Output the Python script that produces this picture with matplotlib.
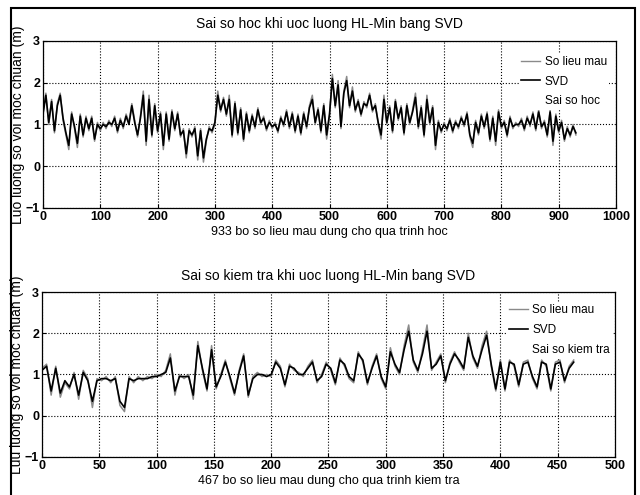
import numpy as np
import matplotlib
matplotlib.use('Agg')
import matplotlib.pyplot as plt
from matplotlib.lines import Line2D
from matplotlib.patches import Rectangle

# tap hoc: 933 mau, doc moi 5 buoc
hoc_step = 5
hoc_mau = [
    1.3, 1.75, 1.0, 1.6, 0.8, 1.5, 1.75, 1.1, 0.75, 0.4,
    1.3, 0.9, 0.45, 1.25, 0.7, 1.2, 0.85, 1.2, 0.6, 1.05,
    0.85, 1.05, 0.9, 1.1, 0.95, 1.2, 0.8, 1.15, 0.9, 1.25,
    1.05, 1.5, 1.1, 0.7, 1.2, 1.8, 0.5, 1.7, 0.7, 1.5,
    0.8, 1.3, 0.4, 1.3, 0.6, 1.35, 0.85, 1.3, 0.7, 0.9,
    0.2, 0.9, 0.7, 0.95, 0.15, 0.9, 0.1, 0.6, 0.95, 0.8,
    1.0, 1.8, 1.3, 1.65, 1.2, 1.7, 0.7, 1.55, 0.75, 1.4,
    0.6, 1.3, 0.8, 1.25, 0.9, 1.4, 1.0, 1.2, 0.85, 1.1,
    0.9, 1.05, 0.8, 1.2, 0.95, 1.35, 0.9, 1.3, 0.8, 1.25,
    0.75, 1.3, 0.9, 1.45, 1.7, 1.0, 1.4, 0.8, 1.5, 0.65,
    1.2, 2.2, 1.4, 2.05, 0.9, 1.8, 2.15, 1.4, 1.9, 1.3,
    1.6, 1.2, 1.55, 1.4, 1.75, 1.3, 1.5, 1.0, 0.65, 1.7,
    1.0, 1.45, 0.8, 1.6, 1.1, 1.45, 0.75, 1.5, 1.0, 1.35,
    1.75, 0.9, 1.45, 0.7, 1.7, 1.0, 1.45, 0.4, 1.1, 0.8,
    1.05, 0.85, 1.15, 0.8, 1.1, 0.9, 1.2, 0.95, 1.3, 0.7,
    0.45, 1.1, 0.75, 1.25, 0.9, 1.3, 0.6, 1.2, 0.5, 1.35,
    0.9, 1.1, 0.7, 1.2, 0.9, 1.05, 0.95, 1.15, 0.85, 1.2,
    0.95, 1.3, 0.85, 1.35, 0.9, 1.1, 0.7, 1.35, 0.5, 1.25,
    0.8, 1.1, 0.6, 0.95, 0.7, 1.0, 0.75,
]
hoc_svd = [
    1.25, 1.7, 1.05, 1.55, 0.85, 1.45, 1.7, 1.15, 0.8, 0.5,
    1.25, 0.95, 0.55, 1.2, 0.75, 1.15, 0.9, 1.15, 0.65, 1.0,
    0.9, 1.0, 0.95, 1.05, 1.0, 1.15, 0.85, 1.1, 0.95, 1.2,
    1.0, 1.45, 1.05, 0.75, 1.15, 1.7, 0.6, 1.6, 0.75, 1.45,
    0.85, 1.25, 0.5, 1.25, 0.65, 1.3, 0.9, 1.25, 0.75, 0.85,
    0.3, 0.85, 0.75, 0.9, 0.25, 0.85, 0.2, 0.65, 0.9, 0.85,
    1.05, 1.7, 1.35, 1.6, 1.25, 1.6, 0.75, 1.5, 0.8, 1.35,
    0.65, 1.25, 0.85, 1.2, 0.95, 1.35, 1.05, 1.15, 0.9, 1.05,
    0.95, 1.0, 0.85, 1.15, 1.0, 1.3, 0.95, 1.25, 0.85, 1.2,
    0.8, 1.25, 0.95, 1.4, 1.6, 1.05, 1.35, 0.85, 1.45, 0.75,
    1.25, 2.1, 1.45, 1.95, 0.95, 1.75, 2.05, 1.45, 1.8, 1.35,
    1.55, 1.25, 1.5, 1.45, 1.7, 1.35, 1.45, 1.05, 0.75, 1.6,
    1.05, 1.4, 0.85, 1.55, 1.15, 1.4, 0.8, 1.45, 1.05, 1.3,
    1.65, 0.95, 1.4, 0.75, 1.6, 1.05, 1.4, 0.5, 1.05, 0.85,
    1.0, 0.9, 1.1, 0.85, 1.05, 0.95, 1.15, 1.0, 1.25, 0.75,
    0.55, 1.05, 0.8, 1.2, 0.95, 1.25, 0.65, 1.15, 0.6, 1.3,
    0.95, 1.05, 0.75, 1.15, 0.95, 1.0, 1.0, 1.1, 0.9, 1.15,
    1.0, 1.25, 0.9, 1.3, 0.95, 1.05, 0.75, 1.3, 0.6, 1.2,
    0.85, 1.05, 0.65, 0.9, 0.75, 0.95, 0.8,
]

# tap kiem tra: 467 mau, doc moi 4 buoc
kt_step = 4
kt_mau = [
    1.15, 1.25, 0.5, 1.2, 0.45, 0.8, 0.65, 1.05, 0.4, 1.1,
    0.9, 0.2, 0.9, 0.85, 0.95, 0.8, 0.95, 0.25, 0.1, 0.95,
    0.8, 0.95, 0.85, 0.95, 0.9, 1.0, 0.95, 1.1, 1.5, 0.5,
    1.0, 0.9, 1.0, 0.4, 1.8, 1.1, 0.6, 1.7, 0.65, 1.0,
    1.35, 0.9, 0.5, 1.1, 1.5, 0.45, 0.95, 1.05, 0.95, 1.0,
    0.95, 1.35, 1.2, 0.7, 1.25, 1.1, 1.05, 0.95, 1.2, 1.35,
    0.8, 1.0, 1.3, 1.1, 0.75, 1.4, 1.2, 0.9, 0.8, 1.55,
    1.3, 0.75, 1.2, 1.5, 0.9, 0.65, 1.65, 1.2, 1.0, 1.7,
    2.2, 1.3, 1.05, 1.6, 2.2, 1.1, 1.3, 1.5, 0.8, 1.3,
    1.55, 1.3, 1.1, 2.0, 1.4, 1.15, 1.7, 2.05, 1.2, 0.6,
    1.35, 0.6, 1.35, 1.2, 0.7, 1.3, 1.35, 0.9, 0.65, 1.35,
    1.2, 0.6, 1.3, 1.35, 0.8, 1.2, 1.35,
]
kt_svd = [
    1.1, 1.2, 0.6, 1.15, 0.55, 0.85, 0.7, 1.0, 0.5, 1.05,
    0.85, 0.35, 0.85, 0.9, 0.9, 0.85, 0.9, 0.35, 0.2, 0.9,
    0.85, 0.9, 0.9, 0.9, 0.95, 0.95, 1.0, 1.05, 1.4, 0.6,
    0.95, 0.95, 0.95, 0.5, 1.7, 1.15, 0.65, 1.6, 0.7, 0.95,
    1.3, 0.95, 0.55, 1.05, 1.45, 0.5, 0.9, 1.0, 1.0, 0.95,
    1.0, 1.3, 1.15, 0.75, 1.2, 1.15, 1.0, 1.0, 1.15, 1.3,
    0.85, 0.95, 1.25, 1.15, 0.8, 1.35, 1.25, 0.95, 0.85, 1.5,
    1.35, 0.8, 1.15, 1.45, 0.95, 0.7, 1.55, 1.25, 1.05, 1.6,
    2.05, 1.35, 1.1, 1.5, 2.05, 1.15, 1.25, 1.45, 0.85, 1.25,
    1.5, 1.35, 1.15, 1.9, 1.45, 1.2, 1.6, 1.95, 1.25, 0.65,
    1.3, 0.65, 1.3, 1.25, 0.75, 1.25, 1.3, 0.95, 0.7, 1.3,
    1.25, 0.65, 1.25, 1.3, 0.85, 1.15, 1.3,
]

plt.rcParams['font.family'] = ['Liberation Sans', 'DejaVu Sans']

fig = plt.figure(figsize=(6.4, 4.95), dpi=100)
ax1 = fig.add_axes([0.0672, 0.5798, 0.8953, 0.3374])
ax2 = fig.add_axes([0.0656, 0.0768, 0.8953, 0.3333])

def style(ax, xmax, xticks):
    ax.set_xlim(0, xmax)
    ax.set_ylim(-1, 3)
    ax.set_xticks(xticks)
    ax.set_yticks([-1, 0, 1, 2, 3])
    ax.grid(True, color='black', linestyle=':', linewidth=0.8)
    ax.tick_params(direction='in', length=3, labelsize=9, pad=2)
    for lab in ax.get_xticklabels() + ax.get_yticklabels():
        lab.set_fontweight('bold')
    for s in ax.spines.values():
        s.set_linewidth(0.9)

def draw(ax, mau, svd, step, err_name, title, xlabel, ylabel, xmax, xticks, anchor):
    x = np.arange(len(mau)) * step
    ax.plot(x, mau, color='#8a8a8a', linewidth=1.1)
    ax.plot(x, svd, color='black', linewidth=1.2)
    style(ax, xmax, xticks)
    ax.set_title(title, fontsize=10, pad=9)
    ax.set_xlabel(xlabel, fontsize=9, labelpad=2)
    ax.set_ylabel(ylabel, fontsize=10, labelpad=0.5)
    handles = [Line2D([], [], color='#8a8a8a', linewidth=1.0),
               Line2D([], [], color='black', linewidth=1.2),
               Line2D([], [], color='white', linewidth=1.0)]
    ax.legend(handles, ['So lieu mau', 'SVD', err_name],
              loc='upper left', bbox_to_anchor=anchor, fontsize=8.5,
              frameon=True, facecolor='white', edgecolor='none',
              framealpha=1, handlelength=1.6, handletextpad=0.4,
              labelspacing=0.65, borderpad=0.2)

draw(ax1, hoc_mau, hoc_svd, hoc_step, 'Sai so hoc',
     'Sai so hoc khi uoc luong HL-Min bang SVD',
     '933 bo so lieu mau dung cho qua trinh hoc',
     'Luo luong so voi moc chuan (m)',
     1000, list(range(0, 1001, 100)), (0.82, 0.96))

draw(ax2, kt_mau, kt_svd, kt_step, 'Sai so kiem tra',
     'Sai so kiem tra khi uoc luong HL-Min bang SVD',
     '467 bo so lieu mau dung cho qua trinh kiem tra',
     'Luu luong so voi moc chuan (m)',
     500, list(range(0, 501, 50)), (0.80, 0.975))

# khung ngoai cua hinh
fig.patches.append(Rectangle((11 / 640, -0.01), 624 / 640, 1 - 8 / 495 + 0.01,
                             transform=fig.transFigure, fill=False,
                             edgecolor='black', linewidth=1.5))

fig.savefig('out.png', dpi=100)
